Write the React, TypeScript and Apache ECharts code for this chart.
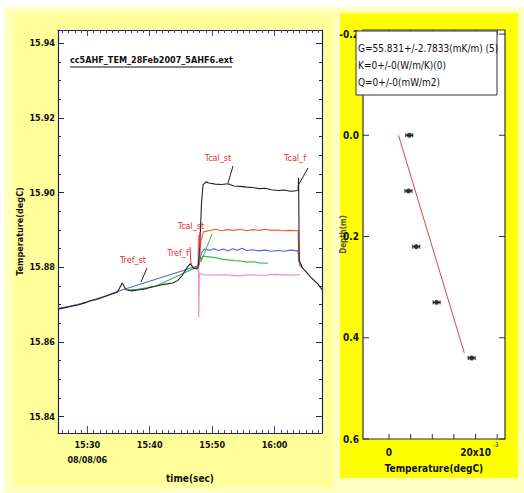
import React, { useEffect, useRef } from 'react';
import * as echarts from 'echarts';

const FONT = '"Liberation Sans Narrow", "DejaVu Sans Condensed", "Arial Narrow", sans-serif';

// ---------- left chart: temperature vs time (minutes after 15:00) ----------
const timeTicks = [30, 40, 50, 60];
const timeTickLabels = ['15:30\n08/08/06', '15:40', '15:50', '16:00'];
const timeMinorTicks = [26, 27, 28, 29, 31, 32, 33, 34, 35, 36, 37, 38, 39, 41, 42, 43, 44, 45, 46, 47, 48, 49, 51, 52, 53, 54, 55, 56, 57, 58, 59, 61, 62, 63, 64, 65, 66, 67];
const tempTicks = [15.84, 15.86, 15.88, 15.9, 15.92, 15.94];
const tempMinorTicks = [15.845, 15.85, 15.855, 15.865, 15.87, 15.875, 15.885, 15.89, 15.895, 15.905, 15.91, 15.915, 15.925, 15.93, 15.935];

const blackLine: [number, number][] = [
  [25.3, 15.8688], [26.5, 15.8692], [27.5, 15.8696], [28.5, 15.8699], [29.5, 15.8704], [30.4, 15.871],
  [31.5, 15.8714], [32.5, 15.872], [33.5, 15.8726], [34.8, 15.8733], [35.6, 15.8758], [36.2, 15.874],
  [37.0, 15.8737], [38.4, 15.874], [39.5, 15.8743], [40.5, 15.8748], [41.6, 15.8752], [42.5, 15.8755],
  [43.7, 15.8758], [44.5, 15.8765], [45.2, 15.8778], [46.0, 15.88], [46.5, 15.881], [47.0, 15.8798],
  [47.5, 15.8796], [47.74, 15.88], [47.9, 15.883], [48.1, 15.889], [48.3, 15.8975], [48.54, 15.9021],
  [49.0, 15.9029], [49.5, 15.9026], [50.5, 15.9023], [51.5, 15.9022], [52.5, 15.9024], [53.5, 15.9018],
  [54.5, 15.9017], [55.5, 15.9015], [56.5, 15.9014], [57.5, 15.9011], [58.5, 15.9012], [59.5, 15.9008],
  [60.5, 15.9006], [61.5, 15.9007], [62.5, 15.9004], [63.3, 15.9005], [63.76, 15.9006], [63.85, 15.904],
  [63.95, 15.882], [64.4, 15.88], [65.2, 15.8785], [66.0, 15.877], [66.97, 15.8755], [67.6, 15.874],
];
const orangeLine: [number, number][] = [
  [47.9, 15.881], [48.2, 15.887], [48.6, 15.8895], [49.5, 15.8898], [50.5, 15.8902], [51.5, 15.8898],
  [52.5, 15.8901], [53.5, 15.8899], [54.5, 15.8902], [55.5, 15.8898], [56.5, 15.8901], [57.5, 15.8899],
  [58.5, 15.8902], [59.5, 15.8899], [60.5, 15.89], [61.5, 15.8898], [62.5, 15.8899], [63.76, 15.8898],
  [63.9, 15.882], [64.4, 15.88],
];
const blueLine: [number, number][] = [
  [25.3, 15.869], [27.0, 15.8695], [29.0, 15.8703], [31.0, 15.8713], [33.0, 15.8724], [34.8, 15.8735],
  [47.9, 15.8805], [48.3, 15.884], [48.8, 15.8849], [49.5, 15.8846], [50.3, 15.885], [51.0, 15.8845],
  [51.8, 15.8849], [52.5, 15.8844], [53.3, 15.885], [54.0, 15.8846], [54.8, 15.8851], [55.5, 15.8845],
  [56.5, 15.8847], [57.5, 15.8844], [58.5, 15.8846], [59.5, 15.8843], [60.5, 15.8845], [61.5, 15.8843],
  [62.5, 15.8846], [63.76, 15.8844], [63.9, 15.8815], [64.4, 15.8802],
];
const greenLine: [number, number][] = [
  [36.5, 15.8739], [38.0, 15.8741], [39.5, 15.8745], [41.0, 15.875], [47.5, 15.88], [48.0, 15.8815],
  [48.5, 15.883], [49.5, 15.8828], [50.5, 15.8826], [51.5, 15.8822], [52.5, 15.882], [53.5, 15.8818],
  [54.5, 15.8817], [55.5, 15.8814], [56.5, 15.8815], [57.5, 15.8812], [58.95, 15.8811],
];
const pinkLine: [number, number][] = [
  [47.7, 15.879], [47.8, 15.8887], [47.85, 15.8667], [47.95, 15.8785], [48.5, 15.878], [50.0, 15.8779],
  [52.0, 15.878], [54.0, 15.8777], [56.0, 15.878], [58.0, 15.8778], [60.0, 15.8781], [62.0, 15.8779],
  [64.08, 15.878],
];
const violetLine: [number, number][] = [[63.8, 15.8845], [64.0, 15.8806], [64.3, 15.88]];

// ---------- right chart: depth vs temperature ----------
const probeTemps = [0.0047, 0.0045, 0.0063, 0.011, 0.0191];
const probeDepths = [0.0, 0.11, 0.22, 0.33, 0.44];
const probeErrors = [0.0008, 0.0008, 0.0008, 0.0008, 0.0008];
const fitLine: [number, number][] = [[0.0022, 0.0], [0.0174, 0.43]];
const rTempMin = -0.006;
const rTempMax = 0.0268;
const depthMin = -0.208;
const depthMax = 0.6;
const rTempTicks = [0, 0.005, 0.01, 0.015, 0.02, 0.025];
const rTempLabelTicks = [0, 0.02];
const depthTicks = [-0.2, 0, 0.2, 0.4, 0.6];
const legendLines = ['G=55.831+/-2.7833(mK/m) (5)', 'K=0+/-0(W/m/K)(0)', 'Q=0+/-0(mW/m2)'];

const NAVY = '#22226a';
const label = { fontFamily: FONT, fontWeight: 'bold' as const, fontSize: 9, color: '#111' };

export default function App() {
  const ref = useRef<HTMLDivElement>(null);
  useEffect(() => {
    if (!ref.current) return;
    const chart = echarts.init(ref.current, null, { renderer: 'svg' });
    const noLine = { show: false };
    const navyLine = () => ({ show: true, onZero: false, lineStyle: { color: NAVY, width: 1.2 } });
    const hiddenLine = () => ({ show: false, onZero: false });
    const tick = (len: number, color: string, values?: number[]) => ({
      show: true, inside: true, length: len, lineStyle: { color, width: 1 },
      ...(values ? { customValues: values } : {}),
    });
    const redText = (x: number, y: number, text: string) => ({
      type: 'text', z: 50, x, y, style: { text, fill: '#e03030', font: `9px ${FONT}`, align: 'center', verticalAlign: 'middle' },
    });
    const seg = (x1: number, y1: number, x2: number, y2: number, stroke: string, z = 50) => ({
      type: 'line', z, shape: { x1, y1, x2, y2 }, style: { stroke, lineWidth: 1 },
    });
    const baseGraphic: any[] = [
      { type: 'rect', z: -100, shape: { x: 4, y: 7, width: 520, height: 486 }, style: { fill: '#ffffc2' } },
      { type: 'rect', z: -99, shape: { x: 13, y: 13, width: 321, height: 474 }, style: { fill: '#ffff9c' } },
      { type: 'rect', z: -99, shape: { x: 340, y: 13, width: 178, height: 465 }, style: { fill: '#ffff00' } },
      { type: 'rect', z: -98, shape: { x: 363, y: 30, width: 142, height: 409 }, style: { fill: '#ffffff' } },
      { type: 'text', z: 50, x: 70, y: 55, style: { text: 'cc5AHF_TEM_28Feb2007_5AHF6.ext', fill: '#111', font: `bold 9px ${FONT}` } },
      seg(70, 67, 232, 67, '#111'),
      redText(218, 158, 'Tcal_st'), seg(233, 166, 228, 183, '#222'),
      redText(295, 158, 'Tcal_f'), seg(308, 168, 299, 184, '#222'),
      redText(191, 226, 'Tcal_st'), seg(200, 232, 199, 250, '#e03030'), seg(212, 234, 201, 262, '#44bb44'),
      redText(178, 253, 'Tref_f'), seg(190, 247, 191, 264, '#e03030'),
      redText(133, 260, 'Tref_st'), seg(147, 268, 141, 282, '#222'),
      { type: 'rect', z: 70, shape: { x: 356, y: 31, width: 141, height: 64 }, style: { fill: '#ffffff', stroke: '#333', lineWidth: 1 } },
      ...legendLines.map((t, i) => ({
        type: 'text', z: 71, x: 358, y: 48 + i * 17,
        style: { text: t, fill: '#111', font: `10px ${FONT}`, verticalAlign: 'middle' },
      })),
      { type: 'text', z: 50, x: 493, y: 441, style: { text: '-3', fill: '#111', font: `6px ${FONT}` } },
    ];
    const option: any = {
      animation: false,
      backgroundColor: '#ffffff',
      grid: [
        { left: 58, top: 30, width: 264, height: 403, show: true, backgroundColor: '#ffffff', borderWidth: 0 },
        { left: 363, top: 30, width: 142, height: 409, show: false },
      ],
      xAxis: [
        {
          gridIndex: 0, type: 'value', position: 'bottom', min: 25.3, max: 67.6,
          axisLine: navyLine(), axisTick: tick(7, '#3344cc', timeTicks),
          axisLabel: {
            ...label, margin: 4, lineHeight: 15, customValues: timeTicks,
            formatter: (v: number) => timeTickLabels[timeTicks.findIndex((t) => Math.abs(t - v) < 1e-6)] ?? '',
          },
          splitLine: noLine,
          name: 'time(sec)', nameLocation: 'middle', nameGap: 40, nameMoveOverlap: false,
          nameTextStyle: { ...label, fontSize: 10 },
        },
        {
          gridIndex: 0, type: 'value', position: 'bottom', min: 25.3, max: 67.6,
          axisLine: hiddenLine(), axisLabel: noLine, splitLine: noLine, axisTick: tick(3, '#3344cc', timeMinorTicks),
        },
        {
          gridIndex: 0, type: 'value', position: 'top', min: 25.3, max: 67.6,
          axisLine: navyLine(), axisLabel: noLine, splitLine: noLine, axisTick: tick(6, '#3344cc', timeTicks),
        },
        {
          gridIndex: 0, type: 'value', position: 'top', min: 25.3, max: 67.6,
          axisLine: hiddenLine(), axisLabel: noLine, splitLine: noLine, axisTick: tick(3, '#3344cc', timeMinorTicks),
        },
        {
          gridIndex: 1, type: 'value', position: 'bottom', min: rTempMin, max: rTempMax,
          axisLine: hiddenLine(), axisTick: noLine,
          axisLabel: {
            ...label, fontSize: 10, margin: 8, customValues: rTempLabelTicks,
            formatter: (v: number) => (Math.abs(v) < 1e-9 ? '0' : '20x10'),
          },
          splitLine: noLine,
          name: 'Temperature(degC)', nameLocation: 'middle', nameGap: 24, nameMoveOverlap: false,
          nameTextStyle: { ...label, fontSize: 10 },
        },
      ],
      yAxis: [
        {
          gridIndex: 0, type: 'value', position: 'left', min: 15.8356, max: 15.9436,
          axisLine: navyLine(), axisTick: tick(6, NAVY, tempTicks),
          axisLabel: { ...label, margin: 3, customValues: tempTicks, formatter: (v: number) => v.toFixed(2) },
          splitLine: noLine,
          name: 'Temperature(degC)', nameLocation: 'middle', nameGap: 34, nameMoveOverlap: false,
          nameTextStyle: { ...label, fontSize: 9 },
        },
        {
          gridIndex: 0, type: 'value', position: 'left', min: 15.8356, max: 15.9436,
          axisLine: hiddenLine(), axisLabel: noLine, splitLine: noLine, axisTick: tick(3, NAVY, tempMinorTicks),
        },
        {
          gridIndex: 0, type: 'value', position: 'right', min: 15.8356, max: 15.9436,
          axisLine: navyLine(), axisLabel: noLine, splitLine: noLine, axisTick: tick(6, NAVY, tempTicks),
        },
        {
          gridIndex: 0, type: 'value', position: 'right', min: 15.8356, max: 15.9436,
          axisLine: hiddenLine(), axisLabel: noLine, splitLine: noLine, axisTick: tick(3, NAVY, tempMinorTicks),
        },
        {
          gridIndex: 1, type: 'value', position: 'left', inverse: true, min: depthMin, max: depthMax,
          axisLine: hiddenLine(), axisTick: noLine,
          axisLabel: { ...label, fontSize: 10, margin: 4, customValues: depthTicks, formatter: (v: number) => v.toFixed(1) },
          splitLine: noLine,
          name: 'Depth(m)', nameLocation: 'middle', nameGap: 16, nameMoveOverlap: false,
          nameTextStyle: { ...label, fontSize: 8, color: '#556' },
        },
      ],
      series: [
        ...[
          { d: blueLine, c: '#5566cc' },
          { d: greenLine, c: '#33bb44' },
          { d: pinkLine, c: '#ee88cc' },
          { d: violetLine, c: '#aa66dd' },
          { d: orangeLine, c: '#ff5522' },
          { d: blackLine, c: '#222222' },
        ].map((s) => ({
          type: 'line', xAxisIndex: 0, yAxisIndex: 0, data: s.d, showSymbol: false,
          lineStyle: { color: s.c, width: 1.1 }, silent: true,
        })),
        {
          type: 'line', xAxisIndex: 4, yAxisIndex: 4, data: fitLine, showSymbol: false,
          lineStyle: { color: '#e04444', width: 1 },
        },
        {
          type: 'custom', xAxisIndex: 4, yAxisIndex: 4,
          data: probeTemps.map((t, i) => [t, probeDepths[i], probeErrors[i]]),
          renderItem: (params: any, api: any) => {
            const x = api.value(0), y = api.value(1), e = api.value(2);
            const p0 = api.coord([x - e, y]);
            const p1 = api.coord([x + e, y]);
            const st = { stroke: '#111', lineWidth: 1 };
            return {
              type: 'group',
              children: [
                { type: 'line', shape: { x1: p0[0], y1: p0[1], x2: p1[0], y2: p1[1] }, style: st },
                { type: 'line', shape: { x1: p0[0], y1: p0[1] - 2, x2: p0[0], y2: p0[1] + 2 }, style: st },
                { type: 'line', shape: { x1: p1[0], y1: p1[1] - 2, x2: p1[0], y2: p1[1] + 2 }, style: st },
              ],
            };
          },
        },
        {
          type: 'scatter', xAxisIndex: 4, yAxisIndex: 4,
          data: probeTemps.map((t, i) => [t, probeDepths[i]]),
          symbol: 'circle', symbolSize: 5, itemStyle: { color: '#111' },
        },
      ],
      graphic: baseGraphic,
    };
    chart.setOption(option);

    // frame and tick marks of the right plot, positioned through its own scales
    const px = (x: number, y: number) => chart.convertToPixel({ gridIndex: 1 }, [x, y]) as number[];
    const tl = px(rTempMin, depthMin);
    const br = px(rTempMax, depthMax);
    const frameEls: any[] = [
      { type: 'rect', z: 60, shape: { x: tl[0], y: tl[1], width: br[0] - tl[0], height: br[1] - tl[1] }, style: { fill: 'none', stroke: '#333', lineWidth: 1.2 } },
    ];
    const L = 5;
    rTempTicks.forEach((v) => {
      const b = px(v, depthMax);
      const t = px(v, depthMin);
      frameEls.push(seg(b[0], b[1], b[0], b[1] - L, '#333', 60));
      frameEls.push(seg(t[0], t[1], t[0], t[1] + L, '#333', 60));
    });
    depthTicks.forEach((d) => {
      const l = px(rTempMin, d);
      const r = px(rTempMax, d);
      frameEls.push(seg(l[0], l[1], l[0] + L + 1, l[1], '#333', 60));
      frameEls.push(seg(r[0], r[1], r[0] - L - 1, r[1], '#333', 60));
    });
    chart.setOption({ graphic: [...baseGraphic, ...frameEls] });
    return () => chart.dispose();
  }, []);
  return <div ref={ref} style={{ position: 'absolute', left: 0, top: 0, width: 524, height: 493 }} />;
}
